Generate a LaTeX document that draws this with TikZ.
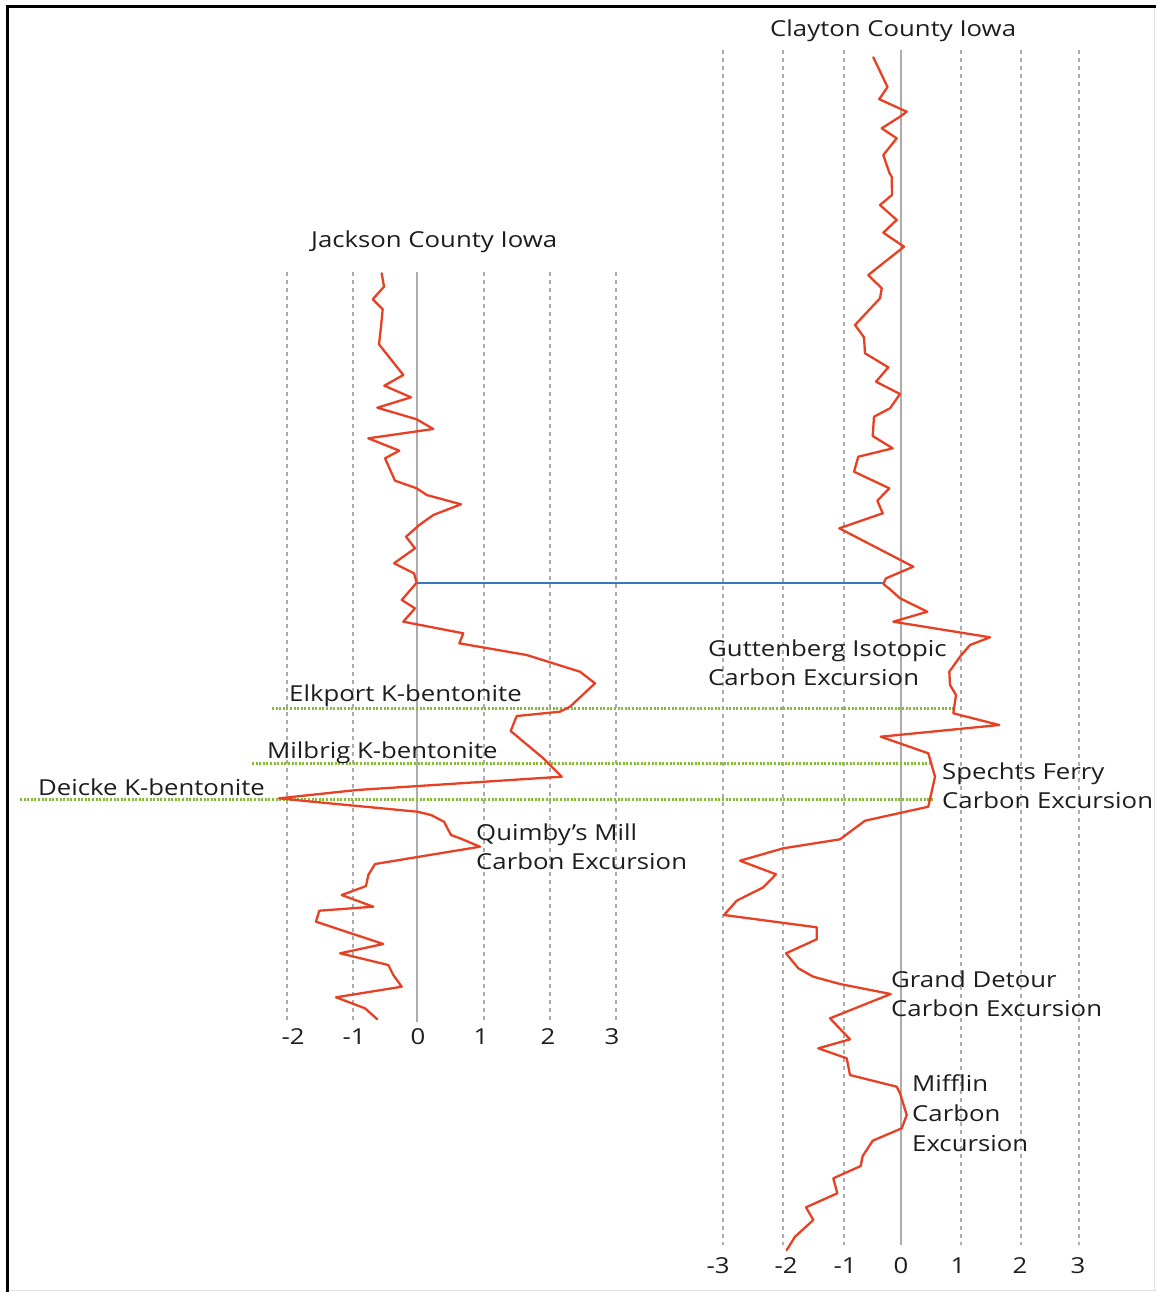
\documentclass[tikz,border=0pt]{standalone}
\usepackage{fontspec}
\setmainfont[FakeStretch=1.17]{Open Sans}
\definecolor{gridgrey}{RGB}{172,172,172}
\definecolor{curvered}{RGB}{232,64,36}
\definecolor{bentgreen}{RGB}{136,186,58}
\definecolor{tieblue}{RGB}{58,118,190}
\definecolor{labelblack}{RGB}{30,30,30}
\definecolor{edgegrey}{RGB}{225,225,225}
\begin{document}
\begin{tikzpicture}[x=1pt,y=-1pt,
  gridline/.style={draw=gridgrey, line width=1.4pt, dash pattern=on 4pt off 4pt},
  zeroline/.style={draw=gridgrey, line width=1.8pt},
  curve/.style={draw=curvered, line width=2.3pt, line join=round, line cap=round},
  marker/.style={draw=bentgreen, line width=3pt, dash pattern=on 2pt off 1.6pt},
  tie/.style={draw=tieblue, line width=2.4pt},
  lbl/.style={inner sep=0pt, anchor=base west, font=\fontsize{22}{26}\selectfont, text=labelblack},
  tick/.style={inner sep=0pt, anchor=base, font=\fontsize{22}{26}\selectfont, text=labelblack}]

% page
\useasboundingbox (0,0) rectangle (1156,1292);
\fill[white] (0,0) rectangle (1156,1292);
\draw[edgegrey, line width=1.5pt] (1154.5,7) -- (1154.5,1292);
\draw[edgegrey, line width=1.5pt] (7,1290.5) -- (1156,1290.5);
\draw[black, line width=3pt] (7,1292) -- (7,7) -- (1156,7);

% Jackson County grid
\foreach \gx in {287,353,484,550,616} \draw[gridline] (\gx,272) -- (\gx,1022);
\draw[zeroline] (417,272) -- (417,1022);
% Clayton County grid
\foreach \gx in {723,783,844,961,1021,1079} \draw[gridline] (\gx,50) -- (\gx,1245);
\draw[zeroline] (901,50) -- (901,1245);

% K-bentonite correlation lines
\coordinate (elkA) at (272,708.5);  \coordinate (elkB) at (955,708.5);
\coordinate (milA) at (252,763);    \coordinate (milB) at (929,763);
\coordinate (deiA) at (20,799.5);   \coordinate (deiB) at (934,799.5);
\draw[marker] (elkA) -- (elkB);
\draw[marker] (milA) -- (milB);
\draw[marker] (deiA) -- (deiB);

% tie line between the two sections
\coordinate (tieA) at (417,583);
\coordinate (tieB) at (884,583);
\draw[tie] (tieA) -- (tieB);

% Jackson County curve
\draw[curve] (381.7,273.3) -- (384,286.7) -- (372.7,299.3) -- (382.7,309.3) -- (381,326.7) -- (379,344.3) -- (403.3,375) -- (384.3,385.7) -- (411,397.3) -- (377.3,407.7) -- (416.7,419.3) -- (433.3,429) -- (368.3,438.3) -- (399.3,450.7) -- (385,458.3) -- (395,480.7) -- (416.7,488.3) -- (426.7,495) -- (461,504.3) -- (433.3,515) -- (419.3,525) -- (406,536.7) -- (415,548.3) -- (394,563.3) -- (414,573.3) -- (416.7,582.7) -- (401.7,600) -- (415,608.3) -- (403.3,621.7) -- (463.3,633.3) -- (459.3,643.3) -- (526.7,655) -- (580,671.7) -- (595,683.3) -- (570,706.7) -- (560,711.7) -- (516.7,716) -- (510.7,731) -- (543.3,758.3) -- (561.7,776.7) -- (357,790) -- (279,798.3) -- (312.5,801.7) -- (417.4,811.7) -- (431,815) -- (444,821.7) -- (451,835) -- (460,838.3) -- (480,846.7) -- (375,864) -- (368.3,875) -- (366,886) -- (361.7,887.7) -- (341.7,895) -- (373.3,906.7) -- (319.3,910.7) -- (316,921.7) -- (383.3,944) -- (340,953.3) -- (388.3,965) -- (393.3,975) -- (401.7,986.7) -- (336,997.3) -- (365,1008.3) -- (377.3,1019.3);

% Clayton County curve
\draw[curve] (873.3,57.3) -- (887.5,87) -- (879.2,99.2) -- (906.7,111.7) -- (900,116.7) -- (881.7,128.3) -- (896.7,138.3) -- (883.3,155) -- (889.3,172.7) -- (891.7,176.7) -- (892,195) -- (880,205) -- (896.7,220) -- (883.3,232.7) -- (904,246.7) -- (868.3,275) -- (881.7,288.3) -- (880,298.3) -- (855,325) -- (864,337.3) -- (865,353.3) -- (888.3,367.3) -- (876,381.7) -- (900,394) -- (890,408.3) -- (874,416.7) -- (872.7,436) -- (892.7,448.3) -- (858.3,456.7) -- (854,471.7) -- (889.3,488.3) -- (877.3,500.7) -- (882.7,513.3) -- (839.3,528.3) -- (913.3,566.7) -- (886,578.3) -- (883.3,584) -- (890,589.3) -- (900,598.3) -- (927.3,611.7) -- (893.3,621.7) -- (990,637.3) -- (970,645) -- (960,656.7) -- (949.3,671.7) -- (950,685) -- (956,695) -- (953.3,713.3) -- (999.3,725) -- (880.7,736.7) -- (928.3,753.3) -- (935,776.7) -- (928.3,806.7) -- (865,820.7) -- (840,839.3) -- (783.3,848.3) -- (740,860.7) -- (776,874.3) -- (763.3,887.3) -- (736.7,900.7) -- (724,915) -- (816.7,927.3) -- (816.7,939.3) -- (786,953.3) -- (798.3,968.3) -- (813.3,976.7) -- (840,984) -- (890.7,994) -- (830,1018.3) -- (850,1039.3) -- (818.3,1048.3) -- (846.7,1058.3) -- (850,1075) -- (896.7,1086.7) -- (900,1093.3) -- (906.7,1115) -- (901.7,1128.3) -- (872.7,1140.7) -- (862.7,1156) -- (860.7,1166) -- (833.3,1178.3) -- (837.3,1193.3) -- (806,1207.3) -- (813.3,1220) -- (795,1236.7) -- (786.7,1250);

% titles
\node[lbl] (jtitle) at (311,247) {Jackson County Iowa};
\node[lbl] (ctitle) at (770,37) {Clayton County Iowa};

% bentonite labels
\node[lbl] (elk) at (289,701) {Elkport K-bentonite};
\node[lbl] (mil) at (267,758) {Milbrig K-bentonite};
\node[lbl] (dei) at (38,795) {Deicke K-bentonite};

% excursion labels
\node[lbl] (qm1) at (476,840) {Quimby’s Mill};
\node[lbl] (qm2) at (476,869) {Carbon Excursion};
\node[lbl] (gi1) at (708,656) {Guttenberg Isotopic};
\node[lbl] (gi2) at (708,685) {Carbon Excursion};
\node[lbl] (sf1) at (942,779) {Spechts Ferry};
\node[lbl] (sf2) at (942,808) {Carbon Excursion};
\node[lbl] (gd1) at (891,987) {Grand Detour};
\node[lbl] (gd2) at (891,1016) {Carbon Excursion};
\node[lbl] (mf1) at (912,1091) {Mifflin};
\node[lbl] (mf2) at (912,1121) {Carbon};
\node[lbl] (mf3) at (912,1151) {Excursion};

% axis values, Jackson County
\node[tick] (jm2) at (293,1044) {-2};
\node[tick] (jm1) at (354,1044) {-1};
\node[tick] (j0) at (418,1044) {0};
\node[tick] (j1) at (481,1044) {1};
\node[tick] (j2) at (548,1044) {2};
\node[tick] (j3) at (612,1044) {3};
% axis values, Clayton County
\node[tick] (cm3) at (718,1273) {-3};
\node[tick] (cm2) at (786,1273) {-2};
\node[tick] (cm1) at (845,1273) {-1};
\node[tick] (c0) at (901,1273) {0};
\node[tick] (c1) at (958,1273) {1};
\node[tick] (c2) at (1020,1273) {2};
\node[tick] (c3) at (1078,1273) {3};
\end{tikzpicture}
\end{document}
